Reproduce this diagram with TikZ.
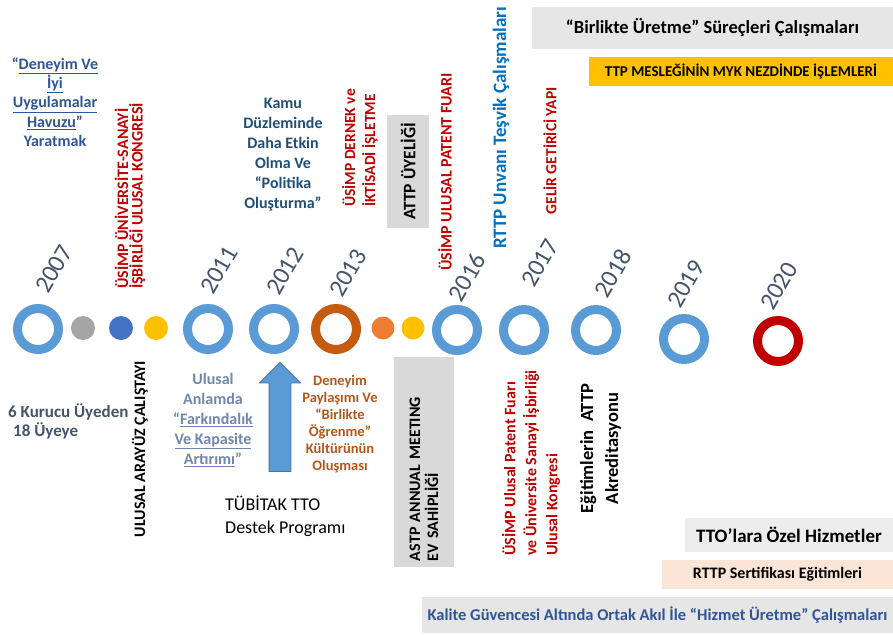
\documentclass[tikz,border=0pt]{standalone}
\usepackage{fontspec}
\setmainfont{Carlito}
\usepackage{xcolor}
\usetikzlibrary{shapes.arrows}

\definecolor{halka}{HTML}{5B9BD5}
\definecolor{turuncu}{HTML}{C55A11}
\definecolor{kirmizi}{HTML}{C00000}
\definecolor{yil}{HTML}{44546A}
\definecolor{lacivert}{HTML}{2F5597}
\definecolor{koyumavi}{HTML}{1F4E79}
\definecolor{mavi}{HTML}{0070C0}
\definecolor{gribeyaz}{HTML}{E7E6E6}
\definecolor{acikgri}{HTML}{EDEDED}
\definecolor{gri}{HTML}{D9D9D9}
\definecolor{sari}{HTML}{FFC000}
\definecolor{somon}{HTML}{FBE5D6}
\definecolor{soluk}{HTML}{7086AD}
\definecolor{kahve}{HTML}{B4561C}
\definecolor{noktagri}{HTML}{A5A5A5}
\definecolor{noktamavi}{HTML}{4472C4}
\definecolor{noktaturuncu}{HTML}{ED7D31}

\begin{document}
\begin{tikzpicture}[x=1pt, y=-1pt,
    every node/.style = {inner sep=0pt, align=center,
      font=\bfseries\fontsize{16}{20}\selectfont},
    ring/.style = {circle, draw=#1, line width=9pt, minimum size=41pt},
    dot/.style = {circle, fill=#1, minimum size=24pt},
    year/.style = {rotate=60, text=yil, font=\fontsize{25}{25}\selectfont},
    upright/.style = {rotate=90, text=#1},
    band/.style = {fill=#1}]
  \useasboundingbox (0,0) rectangle (893,634);
  \foreach \yr/\px/\py/\col/\lx/\ly in {2007/38/329/halka/54/269,
      2011/208/329/halka/219/270, 2012/274/329/halka/285/271,
      2013/336/329/turuncu/348/273, 2016/457/330/halka/467/277,
      2017/524/330/halka/540/263, 2018/596/330/halka/613/273,
      2019/684/339/halka/686/284, 2020/778/341/kirmizi/779/286}
    {\node[ring=\col] (r\yr) at (\px,\py) {};
     \node[year] (y\yr) at (\lx,\ly) {\yr};}
  \node[dot=noktagri] (d1) at (83,328) {};
  \node[dot=noktamavi] (d2) at (121,328) {};
  \node[dot=sari] (d3) at (156,328) {};
  \node[dot=noktaturuncu, minimum size=23pt] (d4) at (383,328) {};
  \node[dot=sari, minimum size=23pt] (d5) at (413,328) {};

  \node[text=lacivert, font=\bfseries\fontsize{16}{19.4}\selectfont] (havuz) at (55,102)
    {“\underline{Deneyim Ve}\\ \underline{İyi}\\ \underline{Uygulamalar}\\ \underline{Havuzu}”\\ Yaratmak};
  \node[upright=kirmizi, align=left, font=\bfseries\fontsize{16}{14.5}\selectfont] (kongre) at (130,196)
    {ÜSİMP ÜNİVERSİTE-SANAYİ\\ İŞBİRLİĞİ ULUSAL KONGRESİ};
  \node[text=koyumavi] (kamu) at (283,155)
    {Kamu\\ Düzleminde\\ Daha Etkin\\ Olma Ve\\ “Politika\\ Oluşturma”};
  \node[upright=kirmizi, align=left, font=\bfseries\fontsize{15.5}{20}\selectfont] (dernek) at (360,148)
    {ÜSİMP DERNEK ve\\ İKTİSADİ İŞLETME};
  \node[band=gri, upright=black, minimum width=113pt, minimum height=42pt,
    font=\bfseries\fontsize{17.5}{20}\selectfont] (attp) at (408,171.5) {ATTP ÜYELİĞİ};
  \node[upright=kirmizi] (fuar) at (445,172) {ÜSİMP ULUSAL PATENT FUARI};
  \node[upright=mavi, font=\bfseries\fontsize{19}{20}\selectfont] (unvan) at (501,128)
    {RTTP Unvanı Teşvik Çalışmaları};
  \node[upright=kirmizi, font=\bfseries\fontsize{15.5}{20}\selectfont] (gelir) at (550,151)
    {GELİR GETİRİCİ YAPI};
  \node[band=gribeyaz, minimum width=361pt, minimum height=42pt,
    font=\bfseries\fontsize{18.5}{20}\selectfont] (birlikte) at (712.5,28)
    {“Birlikte Üretme” Süreçleri Çalışmaları};
  \node[band=sari, minimum width=304pt, minimum height=29pt,
    font=\bfseries\fontsize{15}{18}\selectfont] (myk) at (741,71.5)
    {TTP MESLEĞİNİN MYK NEZDİNDE İŞLEMLERİ};

  \node[text=yil, align=left, anchor=west, font=\bfseries\fontsize{17}{19}\selectfont] (kurucu) at (8,421.5)
    {6 Kurucu Üyeden\\ \hspace*{5pt}18 Üyeye};
  \node[upright=black] (arayuz) at (140,449) {ULUSAL ARAYÜZ ÇALIŞTAYI};
  \node[text=soluk] (anlamda) at (213,420)
    {Ulusal\\ Anlamda\\ “\underline{Farkındalık}\\ \underline{Ve Kapasite}\\ \underline{Artırımı}”};
  \node[single arrow, rotate=90, fill=halka, draw=halka!75!black, line width=0.8pt,
    inner xsep=0pt, inner ysep=10.5pt, minimum width=40pt, minimum height=109pt,
    single arrow head extend=9.5pt] (destek) at (280,422.5) {};
  \node[text=kahve, font=\bfseries\fontsize{14.5}{17}\selectfont] (paylasim) at (340,424.5)
    {Deneyim\\ Paylaşımı Ve\\ “Birlikte\\ Öğrenme”\\ Kültürünün\\ Oluşması};
  \node[align=left, anchor=west, font=\fontsize{18}{23}\selectfont] (tubitak) at (225,516.5)
    {TÜBİTAK TTO\\ Destek Programı};
  \node[band=gri, upright=black, minimum width=210pt, minimum height=60pt,
    text width=198pt, align=left, font=\bfseries\fontsize{16}{18}\selectfont] (astp) at (424,462)
    {ASTP ANNUAL MEETING\\ EV SAHİPLİĞİ};
  \node[upright=kirmizi, align=left, font=\bfseries\fontsize{16}{21}\selectfont] (kongre2) at (531,463)
    {ÜSİMP Ulusal Patent Fuarı\\ ve Üniversite Sanayi İşbirliği\\ Ulusal Kongresi};
  \node[upright=black, font=\bfseries\fontsize{18.5}{25}\selectfont] (egitim) at (600.5,448.5)
    {Eğitimlerin~ ATTP\\ Akreditasyonu};
  \node[band=acikgri, minimum width=208pt, minimum height=34pt,
    font=\bfseries\fontsize{19}{20}\selectfont] (tto) at (789,535) {TTO’lara Özel Hizmetler};
  \node[band=somon, minimum width=231pt, minimum height=29pt] (rttp) at (777.5,574.5)
    {RTTP Sertifikası Eğitimleri};
  \node[band=gribeyaz, minimum width=471pt, minimum height=36pt, text=lacivert,
    font=\bfseries\fontsize{16.5}{18}\selectfont] (kalite) at (657.5,615)
    {Kalite Güvencesi Altında Ortak Akıl İle “Hizmet Üretme” Çalışmaları};
\end{tikzpicture}
\end{document}
